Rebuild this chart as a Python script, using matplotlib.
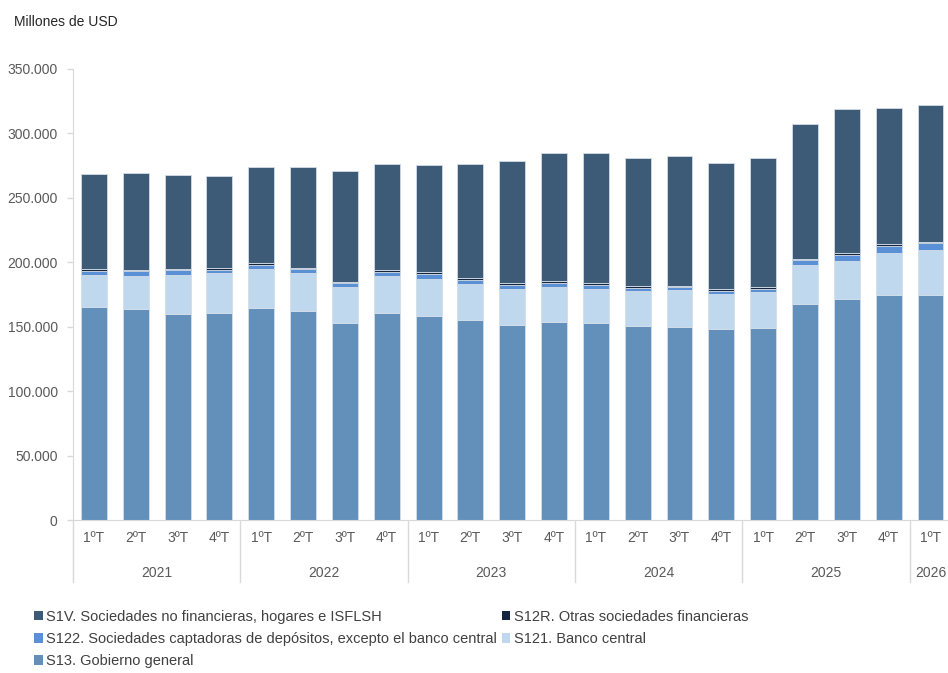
import numpy as np
import matplotlib.pyplot as plt
from matplotlib.patches import Patch
from matplotlib.ticker import FuncFormatter

plt.rcParams['font.family'] = ['Liberation Sans', 'DejaVu Sans']

# datos (millones de USD), 2021 1T ... 2026 1T
quarters = ['1ºT', '2ºT', '3ºT', '4ºT'] * 5 + ['1ºT']
years = ['2021', '2022', '2023', '2024', '2025', '2026']

s13 = [165.1, 163.7, 160.1, 160.6, 164.3, 162.4, 152.6, 160.9, 158.3, 155.2, 151.3,
       153.7, 153.1, 150.6, 150.0, 148.5, 149.0, 167.9, 171.3, 174.6, 174.6]
s121 = [25.3, 25.9, 30.3, 30.8, 30.5, 29.5, 28.0, 28.7, 29.0, 27.7, 28.0,
        27.4, 26.4, 27.4, 28.5, 26.9, 27.7, 30.0, 29.7, 32.6, 34.9]
s122 = [3.1, 3.4, 3.4, 2.9, 3.3, 2.9, 3.1, 3.1, 3.4, 3.1, 3.1,
        2.6, 2.9, 2.0, 2.3, 2.6, 2.8, 3.6, 4.9, 5.7, 5.5]
s12r = [1.5, 1.3, 1.2, 1.3, 1.3, 1.0, 1.2, 1.6, 1.5, 1.8, 1.8,
        1.5, 1.3, 1.6, 1.0, 1.5, 1.6, 1.3, 1.3, 1.1, 1.0]
s1v = [73.3, 75.0, 72.7, 71.4, 74.5, 78.4, 85.7, 81.7, 83.3, 88.5, 94.2,
       99.4, 100.9, 99.6, 100.4, 97.3, 99.8, 104.3, 111.5, 106.0, 106.1]

names = ['S13. Gobierno general',
         'S121. Banco central',
         'S122. Sociedades captadoras de depósitos, excepto el banco central',
         'S12R. Otras sociedades financieras',
         'S1V. Sociedades no financieras, hogares e ISFLSH']
colors = ['#6290ba', '#c0d8ee', '#5a90d6', '#14253d', '#3d5a77']
series = [s13, s121, s122, s12r, s1v]

fs = 10

fig = plt.figure(figsize=(9.48, 6.73), dpi=100)
ax = fig.add_axes([73/948, 153/673, 878.4/948, 451/673])

x = np.arange(len(quarters))
bottom = np.zeros(len(x))
for vals, c in zip(series, colors):
    v = np.array(vals) * 1000
    ax.bar(x, v, 0.62, bottom=bottom, color=c, edgecolor='#d3dde8', linewidth=0.6)
    bottom += v

ax.set_xlim(-0.5, 20.5)
ax.set_ylim(0, 350000)
ax.set_yticks(np.arange(0, 350001, 50000))
ax.yaxis.set_major_formatter(FuncFormatter(lambda v, p: f'{int(v):,}'.replace(',', '.')))
ax.tick_params(axis='y', colors='#d9d9d9', labelcolor='#595959', labelsize=fs,
               length=4, width=1, pad=7)
ax.set_xticks([])
for s in ['top', 'right']:
    ax.spines[s].set_visible(False)
for s in ['left', 'bottom']:
    ax.spines[s].set_color('#d9d9d9')

trans = ax.get_xaxis_transform()
for i, q in enumerate(quarters):
    ax.text(i, -18/451, q, transform=trans, ha='center', va='center',
            fontsize=fs, color='#595959')
year_pos = [1.5, 5.5, 9.5, 13.5, 17.5, 20]
for p, yr in zip(year_pos, years):
    ax.text(p, -53/451, yr, transform=trans, ha='center', va='center',
            fontsize=fs, color='#595959')
for sx in [-0.5, 3.5, 7.5, 11.5, 15.5, 19.5, 20.5]:
    ax.plot([sx, sx], [0, -62/451], transform=trans, color='#d9d9d9', lw=1, clip_on=False)

fig.text(14/948, 1 - 22/673, 'Millones de USD', fontsize=fs, color='#262626', va='center')

# legend filled row by row
order = [4, 2, 0, 3, 1]
handles = [Patch(facecolor=colors[k], label=names[k]) for k in order]
fig.legend(handles=handles, loc='upper left', bbox_to_anchor=(34/948, 1 - 610/673),
           ncol=2, frameon=False, fontsize=10.5, labelcolor='#404040',
           handlelength=0.6, handleheight=0.6, handletextpad=0.25,
           columnspacing=0.3, labelspacing=0.55, borderpad=0, borderaxespad=0)

fig.savefig('out.png', dpi=100)
